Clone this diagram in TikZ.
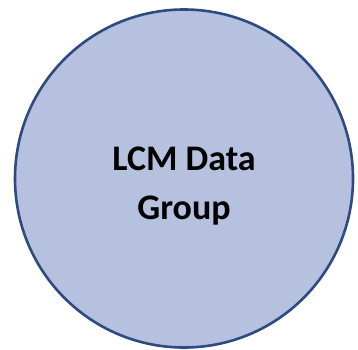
\documentclass[tikz,border=0pt]{standalone}
\usepackage{fontspec}
\setmainfont{Carlito}
\definecolor{groupfill}{RGB}{181,193,223}
\definecolor{groupline}{RGB}{47,74,128}
\begin{document}
\begin{tikzpicture}[x=1pt,y=1pt]
        % рамка
        \useasboundingbox (0,0) rectangle (358,349);
        % круг
        \node[draw=groupline,line width=2.6pt,fill=groupfill,circle,minimum size=338pt,inner sep=0pt] (group) at (184,170.5) {};
        \node[font=\bfseries\fontsize{36}{49}\selectfont,align=center,anchor=base] (grouptext) at (184,130) {LCM Data\\Group};
    \end{tikzpicture}
\end{document}
